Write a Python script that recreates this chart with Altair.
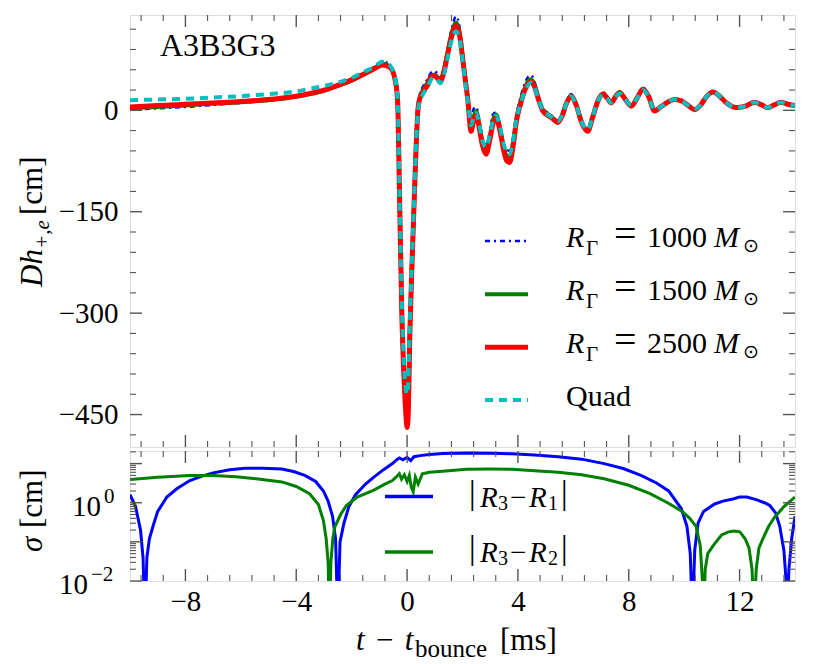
import altair as alt
import pandas as pd

FONT = "Liberation Serif"

# ---------------- data: upper panel (D h_{+,e} [cm] vs t - t_bounce [ms]) ----------------
T_TOP = [-10, -9, -8, -7, -6, -5, -4, -3.5, -3, -2.5,
         -2, -1.5, -1.2, -0.9, -0.75, -0.58, -0.46, -0.4, -0.34, -0.27,
         -0.19, -0.1, -0.04, 0, 0.04, 0.1, 0.18, 0.26, 0.33, 0.39,
         0.45, 0.57, 0.75, 0.87, 1.0, 1.1, 1.2, 1.3, 1.45, 1.6,
         1.77, 1.9, 2.01, 2.1, 2.19, 2.31, 2.4, 2.49, 2.6, 2.72,
         2.85, 2.98, 3.1, 3.21, 3.35, 3.5, 3.6, 3.7, 3.82, 3.95,
         4.1, 4.25, 4.38, 4.48, 4.6, 4.75, 4.9, 5.1, 5.25, 5.44,
         5.6, 5.75, 5.92, 6.1, 6.3, 6.52, 6.7, 6.9, 7.07, 7.22,
         7.37, 7.52, 7.67, 7.88, 8.09, 8.3, 8.51, 8.72, 8.93, 9.15,
         9.4, 9.65, 9.9, 10.15, 10.38, 10.6, 10.8, 11.04, 11.25, 11.5,
         11.88, 12.2, 12.54, 12.8, 13.02, 13.25, 13.5, 13.75, 14]

H_R1000 = [1, 3, 5, 8, 11, 15, 20, 24, 30, 37,
           46, 57, 64, 72, 71, 65, 53, 40, 14, -128,
           -295, -400, -445, -460, -440, -322, -218, -124, -44, 5,
           22, 35, 47, 56, 58, 54, 48, 58, 88, 119,
           139, 122, 82, 50, 22, -15, 2, 5, -12, -40,
           -50, -33, -6, -3, -20, -50, -58, -60, -43, -6,
           20, 40, 50, 52, 42, 20, 3, -4, -9, -15,
           -5, 12, 24, 10, -15, -28, -8, 17, 27, 20,
           13, 22, 28, 18, 8, 20, 34, 22, 1, 6,
           13, 17, 15, 8, 2, 9, 21, 28, 23, 13,
           5, 7, 13, 9, 5, 9, 13, 10, 8]

H_R1500 = [3, 5, 7, 10, 12, 15, 20, 24, 29, 36,
           44, 55, 62, 69, 68, 63, 51, 39, 13, -130,
           -298, -402, -448, -463, -445, -327, -222, -128, -47, 2,
           18, 30, 42, 51, 53, 49, 45, 55, 84, 113,
           130, 115, 78, 47, 18, -25, -10, -1, -20, -46,
           -56, -40, -14, -6, -26, -56, -67, -68, -50, -11,
           14, 33, 44, 46, 38, 17, 1, -6, -11, -17,
           -7, 11, 22, 9, -17, -30, -9, 16, 25, 19,
           12, 21, 27, 17, 7, 19, 32, 21, 0, 5,
           12, 16, 14, 7, 1, 8, 20, 27, 22, 12,
           4, 6, 12, 8, 4, 8, 12, 9, 7]

H_R2500 = [5, 7, 9, 11, 13, 16, 21, 25, 30, 37,
           45, 55, 61, 67, 66, 62, 50, 38, 12, -132,
           -300, -405, -452, -469, -450, -330, -225, -130, -50, 0,
           16, 27, 38, 50, 51, 47, 43, 52, 80, 108,
           125, 110, 75, 45, 16, -31, -15, -6, -25, -52,
           -65, -45, -20, -11, -30, -62, -75, -77, -55, -15,
           10, 30, 40, 43, 35, 15, -1, -8, -12, -18,
           -8, 10, 21, 8, -18, -31, -10, 15, 24, 18,
           11, 20, 26, 16, 6, 18, 31, 20, -1, 5,
           12, 16, 14, 7, 1, 8, 20, 27, 22, 12,
           4, 6, 12, 8, 4, 8, 12, 9, 7]

H_QUAD = [15, 16, 17, 19, 21, 24, 28, 32, 36, 41,
          48, 58, 64, 72, 70, 64, 52, 40, 14, -125,
          -285, -385, -415, -420, -405, -315, -215, -125, -48, -2,
          12, 24, 35, 46, 49, 45, 40, 48, 75, 103,
          117, 104, 72, 42, 14, -22, -10, -4, -20, -45,
          -55, -38, -16, -8, -24, -52, -62, -65, -47, -12,
          10, 28, 38, 41, 34, 15, 0, -7, -11, -16,
          -7, 10, 21, 8, -17, -29, -9, 15, 23, 18,
          11, 20, 25, 16, 7, 18, 30, 20, 0, 5,
          12, 16, 14, 7, 2, 8, 20, 27, 22, 12,
          4, 6, 12, 8, 4, 8, 12, 9, 7]

# ---------------- data: lower panel (sigma [cm], log scale) ----------------
T_S31 = [-10, -9.8, -9.62, -9.53, -9.46, -9.39, -9.3, -9.17, -9.0, -8.67,
         -8.3, -7.84, -7.4, -7.0, -6.4, -5.85, -5.2, -4.52, -4.1, -3.69,
         -3.3, -3.02, -2.85, -2.69, -2.58, -2.5, -2.42, -2.28, -2.1, -1.86,
         -1.5, -1.2, -0.85, -0.53, -0.35, -0.28, -0.15, 0.0, 0.13, 0.25,
         0.47, 0.8, 1.3, 2.13, 3.0, 3.79, 4.6, 5.45, 6.3, 7.11,
         7.8, 8.44, 9.0, 9.44, 9.9, 10.1, 10.22, 10.3, 10.38, 10.5,
         10.7, 11.1, 11.4, 11.76, 12.0, 12.26, 12.6, 12.9, 13.09, 13.3,
         13.45, 13.6, 13.68, 13.72, 13.78, 13.88, 14.0]
S_31 = [1.6, 0.8, 0.2, 0.04, 0.001, 0.04, 0.12, 0.25, 0.6, 1.4,
        2.3, 3.7, 4.8, 5.8, 7.0, 7.6, 7.6, 7.3, 6.3, 5.0,
        3.5, 2.0, 1.1, 0.45, 0.12, 0.001, 0.1, 0.3, 0.8, 1.6,
        3.0, 4.5, 7.0, 10, 13, 14, 12.5, 14.5, 12, 15,
        16, 17, 18, 18.6, 18.5, 17.8, 16.5, 15, 13, 10,
        7.5, 5.0, 3.2, 2.0, 0.7, 0.25, 0.05, 0.001, 0.06, 0.3,
        0.6, 0.93, 1.1, 1.25, 1.4, 1.4, 1.2, 1.0, 0.85, 0.55,
        0.25, 0.06, 0.01, 0.001, 0.02, 0.12, 0.45]

T_S32 = [-10, -9, -7.84, -7, -6.18, -5.3, -4.52, -4.0, -3.52, -3.2,
         -3.02, -2.92, -2.85, -2.8, -2.75, -2.68, -2.61, -2.4, -2.19, -1.8,
         -1.2, -0.8, -0.53, -0.4, -0.28, -0.2, -0.1, 0.0, 0.08, 0.15,
         0.22, 0.3, 0.4, 0.55, 0.8, 1.4, 2.13, 3.0, 3.79, 4.6,
         5.45, 6.3, 7.11, 8.0, 8.77, 9.4, 9.93, 10.2, 10.43, 10.58,
         10.66, 10.7, 10.76, 10.85, 11.1, 11.35, 11.6, 11.8, 12.01, 12.2,
         12.34, 12.45, 12.52, 12.6, 12.7, 12.84, 13.05, 13.26, 13.6, 14.0]
S_32 = [3.9, 4.5, 5.0, 5.0, 4.6, 4.0, 3.4, 2.6, 1.7, 0.9,
        0.35, 0.12, 0.03, 0.001, 0.03, 0.12, 0.24, 0.5, 0.85, 1.4,
        2.1, 3.0, 3.7, 4.5, 5.5, 4.0, 5.2, 3.5, 5.0, 2.5,
        1.9, 4.5, 3.0, 5.5, 6.0, 6.5, 7.2, 7.3, 7.2, 6.6,
        6.0, 5.2, 4.1, 2.8, 1.7, 1.0, 0.6, 0.4, 0.25, 0.08,
        0.01, 0.001, 0.02, 0.05, 0.09, 0.15, 0.18, 0.19, 0.18, 0.12,
        0.07, 0.02, 0.001, 0.02, 0.07, 0.12, 0.25, 0.42, 0.8, 1.4]

# ---------------- ticks ----------------
X_MAJOR = [-8, -4, 0, 4, 8, 12]
X_MINOR = [-9.6, -8.8, -7.2, -6.4, -5.6, -4.8, -3.2, -2.4, -1.6, -0.8, 0.8, 1.6,
           2.4, 3.2, 4.8, 5.6, 6.4, 7.2, 8.8, 9.6, 10.4, 11.2, 12.8, 13.6]
Y1_MAJOR = [-450, -300, -150, 0]
Y1_MINOR = [-480, -420, -390, -360, -330, -270, -240, -210, -180, -120, -90, -60,
            -30, 30, 60, 90, 120]
Y2_MAJOR = [0.01, 0.1, 1, 10]
Y2_MINOR = [0.02, 0.03, 0.04, 0.05, 0.06, 0.07, 0.08, 0.09,
            0.2, 0.3, 0.4, 0.5, 0.6, 0.7, 0.8, 0.9,
            2, 3, 4, 5, 6, 7, 8, 9, 20]
Y2_LABELS = [(1, "0"), (0.01, "\u22122")]

LEGEND_TOP = ["1000", "1500", "2500"]

# ---------------- layout ----------------
W, H1, H2 = 665, 432, 130
XS = alt.Scale(domain=[-10, 14], nice=False, zero=False)
YS1 = alt.Scale(domain=[-498, 141], nice=False, zero=False)
YS2 = alt.Scale(type="log", domain=[0.01, 21], nice=False)

BLUE, GREEN, RED, CYAN = "#0000ff", "#008000", "#ff0000", "#00bfbf"
TICK = "#555555"
ONE = pd.DataFrame({"k": [0]})

AX_Y_TOP = alt.Axis(values=Y1_MAJOR, title=None, ticks=False, domain=False, grid=False,
                    labelFont=FONT, labelFontSize=29, labelColor="black",
                    labelPadding=12, format="d")
AX_X_BOT = alt.Axis(values=X_MAJOR, title=None, ticks=False, domain=False, grid=False,
                    labelFont=FONT, labelFontSize=29, labelColor="black",
                    labelPadding=6, format="d")


def series(t, v, color, width, dash, ysc, xaxis, yaxis, interp):
    df = pd.DataFrame({"t": t, "v": v})
    kw = dict(color=color, strokeWidth=width, clip=True, interpolate=interp)
    if dash:
        kw["strokeDash"] = dash
    return alt.Chart(df).mark_line(**kw).encode(
        x=alt.X("t:Q", scale=XS, axis=xaxis),
        y=alt.Y("v:Q", scale=ysc, axis=yaxis))


def tick_layers(ysc, h, xaxis, yaxis, xmaj, xmin, ymaj, ymin):
    out = []
    for vals, L, w in [(xmaj, 12, 1.4), (xmin, 6, 1.1)]:
        base = alt.Chart(pd.DataFrame({"tv": vals})).mark_rule(color=TICK, strokeWidth=w)
        xe = alt.X("tv:Q", scale=XS, axis=xaxis)
        out.append(base.encode(x=xe, y=alt.value(0), y2=alt.value(L)))
        out.append(base.encode(x=xe, y=alt.value(h), y2=alt.value(h - L)))
    for vals, L, w in [(ymaj, 12, 1.4), (ymin, 6, 1.1)]:
        base = alt.Chart(pd.DataFrame({"yv": vals})).mark_rule(color=TICK, strokeWidth=w)
        ye = alt.Y("yv:Q", scale=ysc, axis=yaxis)
        out.append(base.encode(y=ye, x=alt.value(0), x2=alt.value(L)))
        out.append(base.encode(y=ye, x=alt.value(W), x2=alt.value(W - L)))
    return out


def txt(s, x, y, size, italic=False, angle=0, align="left", font=FONT, baseline="alphabetic"):
    return alt.Chart(ONE).mark_text(
        text=s, fontSize=size, font=font, fontStyle="italic" if italic else "normal",
        align=align, baseline=baseline, angle=angle, color="black"
    ).encode(x=alt.value(x), y=alt.value(y))


def legline(x1, x2, y, color, width, dash=None):
    kw = dict(color=color, strokeWidth=width)
    if dash:
        kw["strokeDash"] = dash
    return alt.Chart(ONE).mark_rule(**kw).encode(
        x=alt.value(x1), x2=alt.value(x2), y=alt.value(y))


# ---------------- upper panel ----------------
top_layers = [
    series(T_TOP, H_R1000, BLUE, 2.5, [5, 4, 2, 4], YS1, None, AX_Y_TOP, "monotone"),
    series(T_TOP, H_R1500, GREEN, 4, None, YS1, None, AX_Y_TOP, "monotone"),
    series(T_TOP, H_R2500, RED, 5, None, YS1, None, AX_Y_TOP, "monotone"),
    series(T_TOP, H_QUAD, CYAN, 4, [8, 6], YS1, None, AX_Y_TOP, "monotone"),
]
top_layers += tick_layers(YS1, H1, None, AX_Y_TOP, X_MAJOR, X_MINOR, Y1_MAJOR, Y1_MINOR)
top_layers.append(txt("A3B3G3", 30, 41, 32))

leg_rows = [226, 279.3, 332.3, 385]
leg_styles = [(BLUE, 2.5, [5, 4, 2, 4]), (GREEN, 4, None), (RED, 5, None), (CYAN, 4, [8, 6])]
for i, (yy, (col, wd, dsh)) in enumerate(zip(leg_rows, leg_styles)):
    top_layers.append(legline(355, 398, yy, col, wd, dsh))
    b = yy + 5.5
    if i < 3:
        top_layers += [
            txt("R", 436, b, 30, italic=True),
            txt("\u0393", 456, b + 8, 21),
            txt("=", 484, b, 40),
            txt(LEGEND_TOP[i], 517, b, 30),
            txt("M", 584, b, 30, italic=True),
            txt("\u2299", 613, b + 5, 19, font="DejaVu Sans"),
        ]
    else:
        top_layers.append(txt("Quad", 436, b, 30))

# rotated y title: D h_{+,e} [cm]
YT = -88
YO = -8
top_layers += [
    txt("D", YT, 280 + YO, 31, italic=True, angle=270),
    txt("h", YT, 257.6 + YO, 31, italic=True, angle=270),
    txt("+,e", YT + 7, 242 + YO, 21, italic=True, angle=270),
    txt("[cm]", YT, 208 + YO, 31, angle=270),
]

top = alt.layer(*top_layers).properties(width=W, height=H1)

# ---------------- lower panel ----------------
bot_layers = [
    series(T_S31, S_31, BLUE, 3, None, YS2, AX_X_BOT, None, "linear"),
    series(T_S32, S_32, GREEN, 3, None, YS2, AX_X_BOT, None, "linear"),
]
bot_layers += tick_layers(YS2, H2, AX_X_BOT, None, X_MAJOR, X_MINOR, Y2_MAJOR, Y2_MINOR)

# log-axis labels 10^0, 10^-2
for val, sup in Y2_LABELS:
    d = pd.DataFrame({"yv": [val]})
    ye = alt.Y("yv:Q", scale=YS2, axis=None)
    right = -29 if sup == "0" else -42
    bot_layers.append(alt.Chart(d).mark_text(
        text="10", font=FONT, fontSize=29, align="right", baseline="middle", dy=4,
        color="black").encode(y=ye, x=alt.value(right)))
    bot_layers.append(alt.Chart(d).mark_text(
        text=sup, font=FONT, fontSize=21, align="left", baseline="middle", dy=-6,
        color="black").encode(y=ye, x=alt.value(right + 3)))

# legend
for yy, base_y, col, sub in [(45.4, 56, BLUE, "1"), (101, 111, GREEN, "2")]:
    bot_layers.append(legline(255, 303, yy, col, 3.5))
    bot_layers += [
        txt("|", 339, base_y - 3, 33),
        txt("R", 350, base_y, 29, italic=True),
        txt("3", 368, base_y + 3, 20),
        txt("\u2212", 380, base_y, 29),
        txt("R", 399, base_y, 29, italic=True),
        txt(sub, 418, base_y + 3, 20),
        txt("|", 431, base_y - 3, 33),
    ]

# y title sigma [cm]
bot_layers += [
    txt("\u03c3", YT, 101, 31, italic=True, angle=270),
    txt("[cm]", YT, 77, 31, angle=270),
]
# x title  t - t_bounce [ms]
bot_layers += [
    txt("t", 226, 199, 31, italic=True),
    txt("\u2212", 246, 199, 31),
    txt("t", 274.7, 199, 31, italic=True),
    txt("bounce", 285, 206, 25),
    txt("[ms]", 370, 199, 31),
]

bot = alt.layer(*bot_layers).properties(width=W, height=H2)

chart = alt.vconcat(top, bot, spacing=0).properties(
    padding={"left": 8, "top": 5, "right": 5, "bottom": 0}
).configure_view(stroke="black", strokeWidth=2).configure(background="white")

chart.save("out.html", embed_options={"renderer": "svg", "actions": False})
